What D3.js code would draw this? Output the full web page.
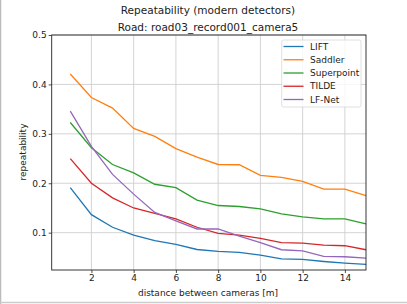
<!DOCTYPE html>
<html><head><meta charset="utf-8">
<script src="https://cdn.jsdelivr.net/npm/d3@7"></script>
<style>body{margin:0;background:#fff;}svg{display:block;font-family:"DejaVu Sans",sans-serif;}</style>
</head><body><svg id="c" width="407" height="304"></svg>
<script>
const distances = [1,2,3,4,5,6,7,8,9,10,11,12,13,14,15];
const seriesNames = ["LIFT","Saddler","Superpoint","TILDE","LF-Net"];
const lift = [0.191,0.1365,0.111,0.0953,0.0838,0.0763,0.066,0.062,0.060,0.0547,0.0472,0.0458,0.0417,0.0385,0.0357];
const saddler = [0.421,0.3735,0.352,0.311,0.295,0.270,0.253,0.238,0.2375,0.216,0.212,0.204,0.188,0.188,0.175];
const superpoint = [0.323,0.272,0.238,0.221,0.198,0.191,0.166,0.155,0.153,0.148,0.138,0.132,0.128,0.128,0.118];
const tilde = [0.250,0.200,0.1705,0.150,0.139,0.128,0.111,0.0986,0.095,0.0885,0.080,0.079,0.075,0.0736,0.0655];
const lfnet = [0.346,0.2746,0.218,0.178,0.141,0.124,0.1075,0.1075,0.093,0.080,0.0655,0.063,0.052,0.0513,0.0486];
const xTicks = [2,4,6,8,10,12,14];
const yTicks = [0.1,0.2,0.3,0.4,0.5];
const colors = ["#1f77b4","#ff7f0e","#2ca02c","#d62728","#9467bd"];
const allSeries = [lift,saddler,superpoint,tilde,lfnet];

const svg = d3.select("#c");
const L=51.7, R=366, T=35, B=270;
const x = d3.scaleLinear().domain([0.12,15]).range([L,R]);
const y = d3.scaleLinear().domain([0.0245,0.5]).range([B,T]);

// outer frame artifacts
svg.append("line").attr("x1",0.5).attr("x2",0.5).attr("y1",0).attr("y2",304).attr("stroke","#bbb").attr("stroke-width",1.5);
svg.append("line").attr("x1",0).attr("x2",407).attr("y1",302.5).attr("y2",302.5).attr("stroke","#ccc").attr("stroke-width",1.5);

// grid
const g = svg.append("g");
g.selectAll(".gx").data(xTicks).join("line").attr("x1",d=>x(d)).attr("x2",d=>x(d)).attr("y1",T).attr("y2",B).attr("stroke","#cfcfcf").attr("stroke-width",0.9);
g.selectAll(".gy").data(yTicks).join("line").attr("x1",L).attr("x2",R).attr("y1",d=>y(d)).attr("y2",d=>y(d)).attr("stroke","#cfcfcf").attr("stroke-width",0.9);

// lines
const line = d3.line().x((d,i)=>x(distances[i])).y(d=>y(d));
svg.append("g").selectAll("path").data(allSeries).join("path")
  .attr("d",d=>line(d)).attr("fill","none").attr("stroke",(d,i)=>colors[i]).attr("stroke-width",1.3);

// axes
const xa = svg.append("g").attr("transform",`translate(0,${B})`).call(d3.axisBottom(x).tickValues(xTicks).tickSize(3).tickPadding(2).tickFormat(d3.format("d")));
const ya = svg.append("g").attr("transform",`translate(${L},0)`).call(d3.axisLeft(y).tickValues(yTicks).tickSize(3).tickPadding(2).tickFormat(d3.format(".1f")));
[xa,ya].forEach(a=>{a.select(".domain").remove();a.selectAll("text").attr("font-size",9).attr("fill","#222").attr("font-family","DejaVu Sans");a.selectAll("line").attr("stroke","#222").attr("stroke-width",0.8);});
svg.append("rect").attr("x",L).attr("y",T).attr("width",R-L).attr("height",B-T).attr("fill","none").attr("stroke","#222").attr("stroke-width",0.9);

// titles
svg.append("text").attr("x",208).attr("y",14).attr("text-anchor","middle").attr("font-size",10.5).attr("fill","#222").text("Repeatability (modern detectors)");
svg.append("text").attr("x",208).attr("y",30.5).attr("text-anchor","middle").attr("font-size",10.5).attr("fill","#222").text("Road: road03_record001_camera5");
svg.append("text").attr("x",208).attr("y",296).attr("text-anchor","middle").attr("font-size",9).attr("fill","#222").text("distance between cameras [m]");
svg.append("text").attr("transform","translate(26,152) rotate(-90)").attr("text-anchor","middle").attr("font-size",9).attr("fill","#222").text("repeatability");

// legend
const lg = svg.append("g");
lg.append("rect").attr("x",281.7).attr("y",40).attr("width",79.3).attr("height",67).attr("rx",2).attr("fill","#fff").attr("fill-opacity",0.8).attr("stroke","#d8d8d8").attr("stroke-width",0.8);
const ly = d3.scalePoint().domain(seriesNames).range([46.5,99.5]);
seriesNames.forEach((n,i)=>{
  lg.append("line").attr("x1",283.5).attr("x2",303.5).attr("y1",ly(n)).attr("y2",ly(n)).attr("stroke",colors[i]).attr("stroke-width",1.3);
  lg.append("text").attr("x",310).attr("y",ly(n)+3.2).attr("font-size",9).attr("fill","#222").text(n);
});
</script></body></html>
